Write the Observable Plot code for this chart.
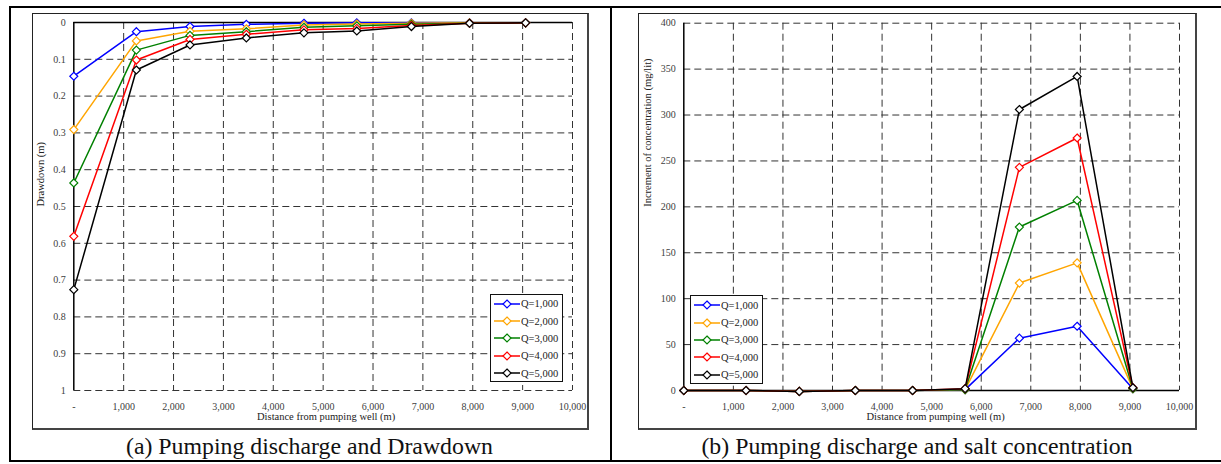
<!DOCTYPE html>
<html>
<head>
<meta charset="utf-8">
<script src="https://cdn.jsdelivr.net/npm/d3@7"></script>
<script src="https://cdn.jsdelivr.net/npm/@observablehq/plot@0.6"></script>
<style>
  html, body { margin: 0; padding: 0; background: #fff; }
  #root { position: relative; width: 1221px; height: 464px; overflow: hidden; font-family: "Liberation Serif", "Times New Roman", serif; }
  .abs { position: absolute; }
  .line { position: absolute; background: #000; }
  .box { position: absolute; box-sizing: border-box; border: 1px solid #222; border-right: 2px solid #444; border-bottom: 2px solid #444; }
  .legend { position: absolute; box-sizing: border-box; border: 1px solid #111; background: #fff; }
  .item { display: flex; align-items: center; height: 17.4px; font-size: 10.5px; color: #222; white-space: nowrap; }
  .item svg { margin-left: 3px; margin-right: 1px; }
  .caption { position: absolute; font-size: 23.8px; line-height: 24px; color: #111; white-space: nowrap; transform: translateX(-50%); }
</style>
</head>
<body>
<div id="root"></div>
<script>
// ---------- data ----------
const distance = [0, 1255, 2330, 3460, 4615, 5675, 6770, 7935, 9060];
const seriesNames = ["Q=1,000", "Q=2,000", "Q=3,000", "Q=4,000", "Q=5,000"];
const seriesColors = ["#0000ff", "#ffa500", "#008000", "#ff0000", "#000000"];

// (a) drawdown (m)
const drawdownQ1 = [0.146, 0.025, 0.011, 0.005, 0.002, 0.001, 0.001, 0.001, 0.001];
const drawdownQ2 = [0.291, 0.050, 0.024, 0.017, 0.007, 0.004, 0.002, 0.001, 0.001];
const drawdownQ3 = [0.436, 0.075, 0.035, 0.025, 0.013, 0.009, 0.005, 0.002, 0.001];
const drawdownQ4 = [0.581, 0.102, 0.046, 0.032, 0.020, 0.016, 0.008, 0.002, 0.001];
const drawdownQ5 = [0.726, 0.129, 0.061, 0.042, 0.028, 0.023, 0.011, 0.002, 0.001];

// (b) increment of concentration (mg/lit)
const concQ1 = [0, 0, -1, 0, 0, 1, 57, 70, 2];
const concQ2 = [0, 0, -1, 0, 0, 1, 117, 139, 2];
const concQ3 = [0, 0, -1, 0, 0, 1, 178, 207, 2];
const concQ4 = [0, 0, -1, 0, 0, 2, 243, 275, 3];
const concQ5 = [0, 0, -1, 0, 0, 2, 306, 342, 3];

// ticks
const xTicks = [0, 1000, 2000, 3000, 4000, 5000, 6000, 7000, 8000, 9000, 10000];
const xTickLabels = ["-", "1,000", "2,000", "3,000", "4,000", "5,000", "6,000", "7,000", "8,000", "9,000", "10,000"];
const ddTicks = [0, 0.1, 0.2, 0.3, 0.4, 0.5, 0.6, 0.7, 0.8, 0.9, 1];
const ddTickLabels = ["0", "0.1", "0.2", "0.3", "0.4", "0.5", "0.6", "0.7", "0.8", "0.9", "1"];
const concTicks = [0, 50, 100, 150, 200, 250, 300, 350, 400];
const concTickLabels = ["0", "50", "100", "150", "200", "250", "300", "350", "400"];

const xLabel = "Distance from pumping well (m)";
const ddLabel = "Drawdown (m)";
const concLabel = "Increment of concentration (mg/lit)";
const captionA = "(a) Pumping discharge and Drawdown";
const captionB = "(b) Pumping discharge and salt concentration";

// ---------- helpers ----------
const root = document.getElementById("root");
function el(cls, css, html) {
  const d = document.createElement("div");
  d.className = cls;
  Object.assign(d.style, css);
  if (html !== undefined) d.textContent = html;
  root.appendChild(d);
  return d;
}
const fmt = (ticks, labels) => { const m = new Map(ticks.map((t, i) => [t, labels[i]])); return d => m.get(d); };
const toRows = (vals) => distance.map((d, i) => ({x: d, y: vals[i]}));

function seriesMarks(valueArrays) {
  return valueArrays.flatMap((vals, k) => {
    const rows = toRows(vals);
    return [
      Plot.line(rows, {x: "x", y: "y", stroke: seriesColors[k], strokeWidth: 1.5}),
      Plot.dot(rows, {x: "x", y: "y", symbol: "diamond2", r: 3.6, stroke: seriesColors[k], fill: "white", strokeWidth: 1.2})
    ];
  });
}

const gridStyle = {stroke: "#333", strokeOpacity: 1, strokeWidth: 1, strokeDasharray: "7,4"};
const plotStyle = {fontFamily: "'Liberation Serif', 'Times New Roman', serif", fontSize: "10px", background: "transparent", overflow: "visible"};

// ---------- frames ----------
el("line", {left: "9px", top: "6px", width: "1212px", height: "2px"});
el("line", {left: "9px", top: "6px", width: "2px", height: "456px"});
el("line", {left: "9px", top: "460px", width: "1212px", height: "2px"});
el("line", {left: "609.5px", top: "6px", width: "2px", height: "456px"});
el("box", {left: "31.5px", top: "12.5px", width: "557.5px", height: "417.5px"});
el("box", {left: "638px", top: "12.5px", width: "558.5px", height: "417.5px"});

// ---------- chart (a) ----------
const plotA = Plot.plot({
  width: 610, height: 464,
  marginLeft: 73.3, marginRight: 38, marginTop: 22, marginBottom: 74,
  x: {domain: [0, 10000]},
  y: {domain: [0, 1], reverse: true},
  style: plotStyle,
  marks: [
    Plot.gridX(xTicks.slice(1), gridStyle),
    Plot.gridY(ddTicks.slice(1), gridStyle),
    Plot.ruleX([0], {stroke: "#000", strokeWidth: 1.5}),
    Plot.ruleY([0], {stroke: "#000", strokeWidth: 1.5}),
    Plot.axisX(xTicks, {tickSize: 0, tickPadding: 12, tickFormat: fmt(xTicks, xTickLabels), fill: "#404040", label: null}),
    Plot.axisY(ddTicks, {tickSize: 0, tickPadding: 8, tickFormat: fmt(ddTicks, ddTickLabels), fill: "#404040", label: null}),
    Plot.text([xLabel], {text: d => d, frameAnchor: "bottom", dy: 29.5, dx: 3, fontSize: 10.5, fill: "#222"}),
    Plot.text([ddLabel], {text: d => d, frameAnchor: "left", dx: -32.8, rotate: -90, fontSize: 10.5, fill: "#222"}),
    ...seriesMarks([drawdownQ1, drawdownQ2, drawdownQ3, drawdownQ4, drawdownQ5])
  ]
});
Object.assign(plotA.style, {position: "absolute", left: "0px", top: "0px"});
root.appendChild(plotA);

// ---------- chart (b) ----------
const plotB = Plot.plot({
  width: 611, height: 464,
  marginLeft: 73.3, marginRight: 42, marginTop: 22.7, marginBottom: 74,
  x: {domain: [0, 10000]},
  y: {domain: [0, 400]},
  style: plotStyle,
  marks: [
    Plot.gridX(xTicks.slice(1), gridStyle),
    Plot.gridY(concTicks.slice(1), gridStyle),
    Plot.ruleX([0], {stroke: "#000", strokeWidth: 1.5}),
    Plot.ruleY([0], {stroke: "#000", strokeWidth: 1.5}),
    Plot.axisX(xTicks, {tickSize: 0, tickPadding: 12, tickFormat: fmt(xTicks, xTickLabels), fill: "#404040", label: null}),
    Plot.axisY(concTicks, {tickSize: 0, tickPadding: 8, tickFormat: fmt(concTicks, concTickLabels), fill: "#404040", label: null}),
    Plot.text([xLabel], {text: d => d, frameAnchor: "bottom", dy: 29.5, dx: 4, fontSize: 10.5, fill: "#222"}),
    Plot.text([concLabel], {text: d => d, frameAnchor: "left", dx: -36, rotate: -90, fontSize: 10.5, fill: "#222"}),
    ...seriesMarks([concQ1, concQ2, concQ3, concQ4, concQ5])
  ]
});
Object.assign(plotB.style, {position: "absolute", left: "610px", top: "0px"});
root.appendChild(plotB);

// ---------- legends ----------
function legend(left, top) {
  const box = el("legend", {left: left + "px", top: top + "px", width: "72.5px", height: "88.5px", paddingTop: "0.5px"});
  seriesNames.forEach((name, k) => {
    const it = document.createElement("div");
    it.className = "item";
    const c = seriesColors[k];
    it.innerHTML = `<svg width="26" height="12" viewBox="0 0 26 12"><line x1="0" y1="6" x2="26" y2="6" stroke="${c}" stroke-width="1.5"/><path d="M13,2 L17,6 L13,10 L9,6 Z" fill="#fff" stroke="${c}" stroke-width="1.2"/></svg><span></span>`;
    it.querySelector("span").textContent = name;
    box.appendChild(it);
  });
}
legend(490, 293.5);
legend(690, 295);

// ---------- captions ----------
el("caption", {left: "309.5px", top: "434px"}, captionA);
el("caption", {left: "917px", top: "434px"}, captionB);
</script>
</body>
</html>
